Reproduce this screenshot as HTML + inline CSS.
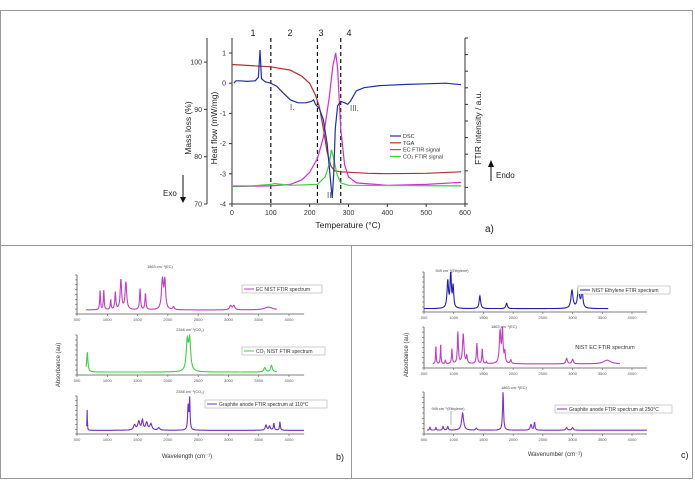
<!DOCTYPE html>
<html><head><meta charset="utf-8"><style>
body{margin:0;background:#fff}
svg{display:block;font-family:"Liberation Sans",sans-serif}
</style></head><body>
<svg id="fig" width="695" height="490" viewBox="0 0 695 490" xmlns="http://www.w3.org/2000/svg">
<rect x="0.5" y="10.5" width="692" height="468" fill="none" stroke="#999"/>
<line x1="0" y1="245.5" x2="693" y2="245.5" stroke="#999"/>
<line x1="351.5" y1="245" x2="351.5" y2="478" stroke="#999"/>
<g id="pa"></g>
<g id="pb"></g>
<g id="pc"></g>
</svg>
<script>
// ---------- Panel a data ----------
const dscT=[5,10,20,40,60,68,72,76,85,100,115,130,150,170,190,205,210,215,225,235,245,252,258,262,266,272,280,290,298,305,320,340,380,450,500,550,590];
const dscV=[0,0.08,0.08,0.06,0.08,0.2,1.1,0.15,0.05,0,-0.1,-0.3,-0.55,-0.65,-0.65,-0.6,-0.55,-0.7,-0.85,-1.2,-2.0,-3.0,-3.8,-3.0,-1.5,-0.75,-0.6,-0.65,-0.7,-0.6,-0.25,-0.15,-0.08,-0.04,-0.02,0,-0.05];
const tgaT=[0,100,150,180,200,215,225,235,245,255,265,280,350,400,500,590];
const tgaV=[99.5,99,98.3,97,95.5,93,90.5,86,81,78,77,76.8,76.5,76.4,76.5,76.8];
const ecT=[0,100,150,180,200,220,235,250,260,267,272,280,290,300,320,400,500,590];
const ecV=[-3.42,-3.4,-3.35,-3.2,-2.95,-2.5,-1.8,-0.5,0.6,1.0,0.5,-1.5,-2.7,-3.1,-3.3,-3.38,-3.35,-3.28];
const co2T=[0,50,100,110,150,220,240,250,256,260,270,280,300,590];
const co2V=[-3.4,-3.4,-3.35,-3.32,-3.38,-3.35,-3.1,-2.7,-2.2,-2.4,-3.0,-3.3,-3.38,-3.4];
const tTicks=[0,100,200,300,400,500,600];
const hfTicks=[1,0,-1,-2,-3,-4];
const mlTicks=[100,90,80,70];
const dashT=[100,220,280];
// ---------- Spectra data [position, height, width] ----------
const bEC=[[881,.55,8],[942,.55,8],[1056,.28,8],[1133,.5,10],[1225,.85,14],[1307,.78,16],[1541,.6,10],[1630,.46,10],[1910,.85,18],[1950,.8,15],[2092,.08,15],[3036,.12,20],[3090,.12,20],[3660,.08,80]];
const bCO2=[[670,.55,12],[2320,.8,20],[2360,.85,20],[3600,.12,18],[3710,.18,18]];
const bGr=[[668,.6,4],[1450,.15,20],[1520,.25,20],[1580,.28,15],[1650,.22,20],[1720,.18,20],[1850,.07,20],[2335,.7,10],[2360,.9,8],[3620,.15,15],[3680,.12,15],[3750,.2,10],[3850,.25,8]];
const cEth=[[900,.75,15],[950,1.0,12],[990,.6,12],[1440,.35,15],[1890,.15,15],[2990,.5,20],[3100,.55,20],[3160,.5,15]];
const cEC=[[700,.5,6],[780,.55,6],[860,.1,6],[970,.4,8],[1070,.85,10],[1160,.8,15],[1220,.2,10],[1390,.55,10],[1480,.4,8],[1550,.05,8],[1780,.85,15],[1820,.9,12],[1860,.3,10],[1960,.1,12],[2900,.15,15],[3000,.12,15],[3580,.1,70]];
const cGr=[[600,.08,8],[700,.07,8],[820,.1,10],[900,.1,10],[1150,.45,20],[1380,.05,15],[1830,1.0,10],[2300,.15,15],[2360,.2,10],[2900,.07,15],[3000,.07,15]];
const wTicks=[500,1000,1500,2000,2500,3000,3500,4000];

const NS="http://www.w3.org/2000/svg";
function mk(parent,tag,attrs,txt){const e=document.createElementNS(NS,tag);for(const k in attrs)e.setAttribute(k,attrs[k]);if(txt!==undefined)e.textContent=txt;parent.appendChild(e);return e;}

// ---------- Panel a ----------
const gA=document.getElementById('pa');
const X0=232,X1=465;
const sx=v=>X0+v/600*(X1-X0);
const sy=v=>53+(1-v)*30.2;
const sm=m=>204-(m-70)*4.73;
function poly(ts,vs,f,color,name,w){
  const d=ts.map((q,i)=>(i?'L':'M')+sx(q).toFixed(1)+','+f(vs[i]).toFixed(1)).join(' ');
  const p=mk(gA,'path',{d:d,fill:'none',stroke:color,'stroke-width':w||1.2});
  
  
}
let ax=mk(gA,'path',{d:`M${X0},38 V204 H${X1} V38`,fill:'none',stroke:'#333','stroke-width':1});


let ax2=mk(gA,'path',{d:`M207,38 V204`,fill:'none',stroke:'#333','stroke-width':1});


tTicks.forEach(v=>{
  mk(gA,'line',{x1:sx(v),y1:204,x2:sx(v),y2:207,stroke:'#333'});
  const l=mk(gA,'text',{x:sx(v),y:215,'font-size':7,'text-anchor':'middle',fill:'#333'},String(v));
  
  
});
hfTicks.forEach(v=>{
  mk(gA,'line',{x1:X0-3,y1:sy(v),x2:X0,y2:sy(v),stroke:'#333'});
  const l=mk(gA,'text',{x:X0-6,y:sy(v)+2.5,'font-size':7,'text-anchor':'end',fill:'#333'},String(v));
  
  
});
mlTicks.forEach(v=>{
  mk(gA,'line',{x1:204,y1:sm(v),x2:207,y2:sm(v),stroke:'#333'});
  const l=mk(gA,'text',{x:202,y:sm(v)+2.5,'font-size':7,'text-anchor':'end',fill:'#333'},String(v));
  
  
});
for(let y=38;y<=204;y+=16.6){mk(gA,'line',{x1:X1,y1:y,x2:X1+3,y2:y,stroke:'#333'});}
dashT.forEach(v=>{
  const l=mk(gA,'line',{x1:sx(v),y1:38,x2:sx(v),y2:204,stroke:'#111','stroke-width':1.2,'stroke-dasharray':'4,3'});
  
  
});
poly(tgaT,tgaV,sm,'#b03030','tga-curve');
poly(ecT,ecV,sy,'#d030d0','ec-ftir-curve');
poly(co2T,co2V,sy,'#40d040','co2-ftir-curve');
poly(dscT,dscV,sy,'#2030a0','dsc-curve');
[['1',253],['2',290],['3',321],['4',349]].forEach(a=>{
  const l=mk(gA,'text',{x:a[1],y:36,'font-size':9,'text-anchor':'middle',fill:'#222'},a[0]);
  
  
});
[['I.',290,110],['II.',327,198],['III.',350,111]].forEach(a=>{
  const l=mk(gA,'text',{x:a[1],y:a[2],'font-size':8,fill:'#555'},a[0]);
  
  
});
const leg=[['DSC','#2030a0'],['TGA','#b03030'],['EC FTIR signal','#d030d0'],['CO\u2082 FTIR signal','#40d040']];
leg.forEach((e,i)=>{
  const y=136+i*6.8;
  mk(gA,'line',{x1:390,y1:y,x2:401,y2:y,stroke:e[1],'stroke-width':1.2});
  const l=mk(gA,'text',{x:403,y:y+2,'font-size':5.5,fill:'#333'},e[0]);
  
  
});
let tx;
tx=mk(gA,'text',{x:348,y:228,'font-size':8.5,'text-anchor':'middle',fill:'#222'},'Temperature (\u00B0C)');

tx=mk(gA,'text',{x:0,y:0,'font-size':8.5,'text-anchor':'middle',fill:'#222',transform:'translate(217,128) rotate(-90)'},'Heat flow (mW/mg)');

tx=mk(gA,'text',{x:0,y:0,'font-size':8.5,'text-anchor':'middle',fill:'#222',transform:'translate(191,128) rotate(-90)'},'Mass loss  (%)');

tx=mk(gA,'text',{x:0,y:0,'font-size':8.5,'text-anchor':'middle',fill:'#222',transform:'translate(481,128) rotate(-90)'},'FTIR intensity / a.u.');

tx=mk(gA,'text',{x:163,y:196,'font-size':8,fill:'#222'},'Exo');

mk(gA,'line',{x1:183,y1:175,x2:183,y2:198,stroke:'#111','stroke-width':1});
mk(gA,'path',{d:'M180,197 L186,197 L183,203 Z',fill:'#111'});
mk(gA,'line',{x1:491,y1:166,x2:491,y2:181,stroke:'#111','stroke-width':1});
mk(gA,'path',{d:'M488,167 L494,167 L491,160 Z',fill:'#111'});
tx=mk(gA,'text',{x:496,y:178,'font-size':8,fill:'#222'},'Endo');

tx=mk(gA,'text',{x:485,y:232,'font-size':10,fill:'#222'},'a)');


// ---------- Spectra ----------
function spectrum(g,peaks,xa,xb,ya,yb,lo,hi,color,name,base){
  const fx=w=>xa+(w-500)/3500*(xb-xa);
  const axEnd=fx(4250);
  let a=mk(g,'path',{d:`M${xa},${ya} V${yb} H${axEnd}`,fill:'none',stroke:'#555','stroke-width':0.8});
  
  for(let y=ya;y<=yb;y+=(yb-ya)/8)mk(g,'line',{x1:xa-2,y1:y,x2:xa,y2:y,stroke:'#555','stroke-width':0.6});
  wTicks.forEach(w=>{
    mk(g,'line',{x1:fx(w),y1:yb,x2:fx(w),y2:yb+2,stroke:'#555','stroke-width':0.6});
    const l=mk(g,'text',{x:fx(w),y:yb+7,'font-size':4,'text-anchor':'middle',fill:'#555'},String(w));
    
  });
  const h=(yb-ya)-4;
  let d='';
  for(let w=lo;w<=hi;w+=4){
    let v=base;
    peaks.forEach(p=>{const z=(w-p[0])/p[2];v+=p[1]/(1+z*z);});
    v=Math.min(v,1.02);
    d+=(d?'L':'M')+fx(w).toFixed(1)+','+(yb-3-v*h).toFixed(1);
  }
  const p=mk(g,'path',{d:d,fill:'none',stroke:color,'stroke-width':1.1});
  
}
function legendBox(g,x,y,w,color,txt,name){
  mk(g,'rect',{x:x,y:y-4,width:w,height:8,fill:'#fff',stroke:'#999','stroke-width':0.5});
  mk(g,'line',{x1:x+2,y1:y,x2:x+12,y2:y,stroke:color,'stroke-width':1});
  const l=mk(g,'text',{x:x+14,y:y+2,'font-size':5,fill:'#333'},txt);
  
}
function note(g,x,y,txt){
  const l=mk(g,'text',{x:x,y:y,'font-size':3.8,'text-anchor':'middle',fill:'#444'},txt);
  
}
const pb=document.getElementById('pb');
spectrum(pb,bEC,77,289,275,314,650,3800,'#c040c0','ec-nist-spectrum',0.03);
spectrum(pb,bCO2,77,289,335,375,650,3800,'#40d040','co2-nist-spectrum',0.0);
spectrum(pb,bGr,77,289,396,434,660,4250,'#7030c0','graphite-110-spectrum',0.02);
legendBox(pb,242,289,80,'#c040c0','EC NIST FTIR spectrum','legend-ec-nist');
legendBox(pb,242,351,83,'#40d040','CO\u2082 NIST FTIR spectrum','legend-co2-nist');
legendBox(pb,205,404,122,'#7030c0','Graphite anode FTIR spectrum at 110\u00B0C','legend-graphite-110');
note(pb,160,268,'1863 cm\u207B\u00B9(EC)');
note(pb,190,331,'2346 cm\u207B\u00B9(CO\u2082)');
note(pb,190,393,'2346 cm\u207B\u00B9(CO\u2082)');
tx=mk(pb,'text',{x:187,y:458,'font-size':6,'text-anchor':'middle',fill:'#333'},'Wavelength (cm\u207B\u00B9)');

tx=mk(pb,'text',{x:0,y:0,'font-size':6,'text-anchor':'middle',fill:'#333',transform:'translate(60,365) rotate(-90)'},'Absorbance (au)');

tx=mk(pb,'text',{x:336,y:460,'font-size':9,fill:'#222'},'b)');


const pc=document.getElementById('pc');
spectrum(pc,cEth,424,632,272,312,500,3600,'#2020b0','ethylene-nist-spectrum',0.01);
spectrum(pc,cEC,424,632,327,368,650,3800,'#c040c0','ec-nist-spectrum-c',0.03);
spectrum(pc,cGr,424,632,392,434,550,4250,'#8030c0','graphite-250-spectrum',0.02);
legendBox(pc,578,290,92,'#2020b0','NIST Ethylene FTIR spectrum','legend-ethylene');
legendBox(pc,555,409,117,'#8030c0','Graphite anode FTIR spectrum at 250\u00B0C','legend-graphite-250');
tx=mk(pc,'text',{x:605,y:349,'font-size':5.5,'text-anchor':'middle',fill:'#333'},'NIST EC FTIR spectrum');

note(pc,452,272,'949 cm\u207B\u00B9(Ethylene)');
note(pc,504,328,'1863 cm\u207B\u00B9(EC)');
note(pc,514,389,'1863 cm\u207B\u00B9(EC)');
note(pc,448,410,'949 cm\u207B\u00B9(Ethylene)');
mk(pc,'line',{x1:451,y1:411,x2:451,y2:425,stroke:'#444','stroke-width':0.4});
tx=mk(pc,'text',{x:555,y:456,'font-size':6,'text-anchor':'middle',fill:'#333'},'Wavenumber (cm\u207B\u00B9)');

tx=mk(pc,'text',{x:0,y:0,'font-size':6,'text-anchor':'middle',fill:'#333',transform:'translate(408,355) rotate(-90)'},'Absorbance (au)');

tx=mk(pc,'text',{x:681,y:458,'font-size':9,fill:'#222'},'c)');

</script>
</body></html>
